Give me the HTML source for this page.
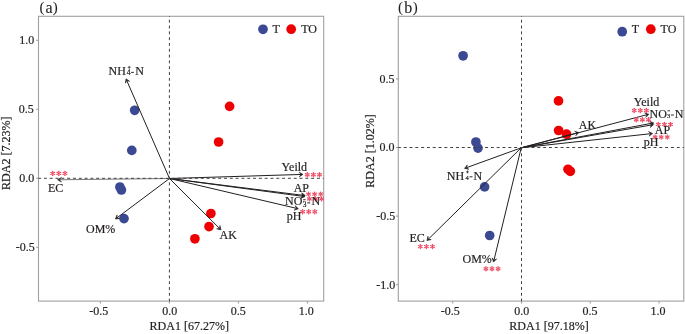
<!DOCTYPE html>
<html><head><meta charset="utf-8"><style>
html,body{margin:0;padding:0;background:#fff;}
text{stroke:#231f20;stroke-width:0.2px;}
body{width:685px;height:334px;overflow:hidden;font-family:"Liberation Serif", serif;}
svg{display:block;will-change:transform;}
</style></head><body>
<svg width="685" height="334" viewBox="0 0 685 334" font-family="'Liberation Serif', serif">
<rect x="38.5" y="16.3" width="285.2" height="284.8" fill="none" stroke="#a0a0a0" stroke-width="1.1"/>
<line x1="100.40" y1="301.10" x2="100.40" y2="303.50" stroke="#a0a0a0" stroke-width="1.1" />
<text id="Lx-0.5" x="98.80" y="314.60" font-size="12" text-anchor="middle" fill="#231f20" >-0.5</text>
<line x1="169.40" y1="301.10" x2="169.40" y2="303.50" stroke="#a0a0a0" stroke-width="1.1" />
<text id="Lx0.0" x="169.70" y="314.60" font-size="12" text-anchor="middle" fill="#231f20" >0.0</text>
<line x1="238.40" y1="301.10" x2="238.40" y2="303.50" stroke="#a0a0a0" stroke-width="1.1" />
<text id="Lx0.5" x="238.20" y="314.60" font-size="12" text-anchor="middle" fill="#231f20" >0.5</text>
<line x1="307.40" y1="301.10" x2="307.40" y2="303.50" stroke="#a0a0a0" stroke-width="1.1" />
<text id="Lx1.0" x="306.20" y="314.60" font-size="12" text-anchor="middle" fill="#231f20" >1.0</text>
<line x1="36.20" y1="40.30" x2="38.50" y2="40.30" stroke="#a0a0a0" stroke-width="1.1" />
<text id="Ly1.0" x="34.20" y="44.20" font-size="12" text-anchor="end" fill="#231f20" >1.0</text>
<line x1="36.20" y1="109.30" x2="38.50" y2="109.30" stroke="#a0a0a0" stroke-width="1.1" />
<text id="Ly0.5" x="33.80" y="112.70" font-size="12" text-anchor="end" fill="#231f20" >0.5</text>
<line x1="36.20" y1="178.30" x2="38.50" y2="178.30" stroke="#a0a0a0" stroke-width="1.1" />
<text id="Ly0.0" x="34.20" y="182.20" font-size="12" text-anchor="end" fill="#231f20" >0.0</text>
<line x1="36.20" y1="247.30" x2="38.50" y2="247.30" stroke="#a0a0a0" stroke-width="1.1" />
<text id="Ly-0.5" x="34.70" y="251.20" font-size="12" text-anchor="end" fill="#231f20" >-0.5</text>
<text id="Lxlab" x="149.60" y="329.60" font-size="12" text-anchor="start" fill="#231f20" >RDA1 [67.27%]</text>
<text id="Lylab" x="0" y="0" font-size="12" fill="#231f20" transform="translate(10.10,189.90) rotate(-90)">RDA2 [7.23%]</text>
<text id="Ltag1" x="39.50" y="12.40" font-size="15.0" text-anchor="start" fill="#231f20" style="stroke-width:0.05px">(</text>
<text id="Ltag2" x="45.50" y="12.80" font-size="16" text-anchor="start" fill="#231f20" style="stroke-width:0.12px">a</text>
<text id="Ltag3" x="52.80" y="12.40" font-size="15.0" text-anchor="start" fill="#231f20" style="stroke-width:0.05px">)</text>
<circle cx="134.7" cy="110.3" r="4.85" fill="#3b4992"/>
<circle cx="131.8" cy="150.4" r="4.85" fill="#3b4992"/>
<circle cx="119.9" cy="187" r="4.85" fill="#3b4992"/>
<circle cx="121.4" cy="190" r="4.85" fill="#3b4992"/>
<circle cx="124" cy="218.6" r="4.85" fill="#3b4992"/>
<circle cx="229.6" cy="106.4" r="4.85" fill="#ee0000"/>
<circle cx="218.6" cy="142" r="4.85" fill="#ee0000"/>
<circle cx="210.9" cy="213.5" r="4.85" fill="#ee0000"/>
<circle cx="209" cy="226.6" r="4.85" fill="#ee0000"/>
<circle cx="194.9" cy="238.8" r="4.85" fill="#ee0000"/>
<circle cx="263" cy="29.3" r="4.85" fill="#3b4992"/>
<text id="LT" x="272.60" y="32.80" font-size="12" text-anchor="start" fill="#231f20" >T</text>
<circle cx="291.2" cy="29.2" r="4.85" fill="#ee0000"/>
<text id="LTO" x="301.20" y="32.80" font-size="12" text-anchor="start" fill="#231f20" >TO</text>
<line x1="169.50" y1="178.50" x2="126.76" y2="80.54" stroke="#231f20" stroke-width="1.0" />
<path d="M126.00,78.80 L129.63,81.36 L126.76,80.54 L125.41,83.20 Z" fill="#231f20" stroke="#231f20" stroke-width="0.6" stroke-linejoin="round"/>
<line x1="169.50" y1="178.50" x2="116.92" y2="217.86" stroke="#231f20" stroke-width="1.0" />
<path d="M115.40,219.00 L117.06,214.88 L116.92,217.86 L119.82,218.56 Z" fill="#231f20" stroke="#231f20" stroke-width="0.6" stroke-linejoin="round"/>
<line x1="169.50" y1="178.50" x2="219.66" y2="228.56" stroke="#231f20" stroke-width="1.0" />
<path d="M221.00,229.90 L216.69,228.84 L219.66,228.56 L219.94,225.59 Z" fill="#231f20" stroke="#231f20" stroke-width="0.6" stroke-linejoin="round"/>
<line x1="169.50" y1="178.50" x2="301.10" y2="174.46" stroke="#231f20" stroke-width="1.0" />
<path d="M303.00,174.40 L299.27,176.82 L301.10,174.46 L299.13,172.22 Z" fill="#231f20" stroke="#231f20" stroke-width="0.6" stroke-linejoin="round"/>
<line x1="169.50" y1="178.50" x2="303.41" y2="195.36" stroke="#231f20" stroke-width="1.0" />
<path d="M305.30,195.60 L301.24,197.41 L303.41,195.36 L301.82,192.84 Z" fill="#231f20" stroke="#231f20" stroke-width="0.6" stroke-linejoin="round"/>
<line x1="169.50" y1="178.50" x2="303.12" y2="196.35" stroke="#231f20" stroke-width="1.0" />
<path d="M305.00,196.60 L300.93,198.38 L303.12,196.35 L301.54,193.82 Z" fill="#231f20" stroke="#231f20" stroke-width="0.6" stroke-linejoin="round"/>
<line x1="169.50" y1="178.50" x2="296.55" y2="208.37" stroke="#231f20" stroke-width="1.0" />
<path d="M298.40,208.80 L294.17,210.17 L296.55,208.37 L295.23,205.69 Z" fill="#231f20" stroke="#231f20" stroke-width="0.6" stroke-linejoin="round"/>
<line x1="169.50" y1="178.50" x2="59.50" y2="179.78" stroke="#6a6a6a" stroke-width="0.9" />
<path d="M57.60,179.80 L61.37,177.46 L59.50,179.78 L61.43,182.06 Z" fill="#231f20" stroke="#231f20" stroke-width="0.6" stroke-linejoin="round"/>
<line x1="169.40" y1="16.30" x2="169.40" y2="301.10" stroke="#404040" stroke-width="1.0" stroke-dasharray="2.95 2.86" stroke-dashoffset="2.37"/>
<line x1="38.50" y1="178.30" x2="323.70" y2="178.30" stroke="#404040" stroke-width="1.0" stroke-dasharray="2.95 2.86" stroke-dashoffset="0.4"/>
<path d="M52.70,173.40L52.70,171.40M52.70,173.40L54.43,172.40M52.70,173.40L54.43,174.40M52.70,173.40L52.70,175.40M52.70,173.40L50.97,172.40M52.70,173.40L50.97,174.40" stroke="#ef4a62" stroke-width="1.0" fill="none"/>
<circle cx="52.70" cy="171.40" r="0.72" fill="#ef4a62"/>
<circle cx="54.43" cy="172.40" r="0.72" fill="#ef4a62"/>
<circle cx="54.43" cy="174.40" r="0.72" fill="#ef4a62"/>
<circle cx="52.70" cy="175.40" r="0.72" fill="#ef4a62"/>
<circle cx="50.97" cy="172.40" r="0.72" fill="#ef4a62"/>
<circle cx="50.97" cy="174.40" r="0.72" fill="#ef4a62"/>
<path d="M58.80,173.40L58.80,171.40M58.80,173.40L60.53,172.40M58.80,173.40L60.53,174.40M58.80,173.40L58.80,175.40M58.80,173.40L57.07,172.40M58.80,173.40L57.07,174.40" stroke="#ef4a62" stroke-width="1.0" fill="none"/>
<circle cx="58.80" cy="171.40" r="0.72" fill="#ef4a62"/>
<circle cx="60.53" cy="172.40" r="0.72" fill="#ef4a62"/>
<circle cx="60.53" cy="174.40" r="0.72" fill="#ef4a62"/>
<circle cx="58.80" cy="175.40" r="0.72" fill="#ef4a62"/>
<circle cx="57.07" cy="172.40" r="0.72" fill="#ef4a62"/>
<circle cx="57.07" cy="174.40" r="0.72" fill="#ef4a62"/>
<path d="M64.90,173.40L64.90,171.40M64.90,173.40L66.63,172.40M64.90,173.40L66.63,174.40M64.90,173.40L64.90,175.40M64.90,173.40L63.17,172.40M64.90,173.40L63.17,174.40" stroke="#ef4a62" stroke-width="1.0" fill="none"/>
<circle cx="64.90" cy="171.40" r="0.72" fill="#ef4a62"/>
<circle cx="66.63" cy="172.40" r="0.72" fill="#ef4a62"/>
<circle cx="66.63" cy="174.40" r="0.72" fill="#ef4a62"/>
<circle cx="64.90" cy="175.40" r="0.72" fill="#ef4a62"/>
<circle cx="63.17" cy="172.40" r="0.72" fill="#ef4a62"/>
<circle cx="63.17" cy="174.40" r="0.72" fill="#ef4a62"/>
<path d="M307.30,174.70L307.30,172.70M307.30,174.70L309.03,173.70M307.30,174.70L309.03,175.70M307.30,174.70L307.30,176.70M307.30,174.70L305.57,173.70M307.30,174.70L305.57,175.70" stroke="#ef4a62" stroke-width="1.0" fill="none"/>
<circle cx="307.30" cy="172.70" r="0.72" fill="#ef4a62"/>
<circle cx="309.03" cy="173.70" r="0.72" fill="#ef4a62"/>
<circle cx="309.03" cy="175.70" r="0.72" fill="#ef4a62"/>
<circle cx="307.30" cy="176.70" r="0.72" fill="#ef4a62"/>
<circle cx="305.57" cy="173.70" r="0.72" fill="#ef4a62"/>
<circle cx="305.57" cy="175.70" r="0.72" fill="#ef4a62"/>
<path d="M313.40,174.70L313.40,172.70M313.40,174.70L315.13,173.70M313.40,174.70L315.13,175.70M313.40,174.70L313.40,176.70M313.40,174.70L311.67,173.70M313.40,174.70L311.67,175.70" stroke="#ef4a62" stroke-width="1.0" fill="none"/>
<circle cx="313.40" cy="172.70" r="0.72" fill="#ef4a62"/>
<circle cx="315.13" cy="173.70" r="0.72" fill="#ef4a62"/>
<circle cx="315.13" cy="175.70" r="0.72" fill="#ef4a62"/>
<circle cx="313.40" cy="176.70" r="0.72" fill="#ef4a62"/>
<circle cx="311.67" cy="173.70" r="0.72" fill="#ef4a62"/>
<circle cx="311.67" cy="175.70" r="0.72" fill="#ef4a62"/>
<path d="M319.50,174.70L319.50,172.70M319.50,174.70L321.23,173.70M319.50,174.70L321.23,175.70M319.50,174.70L319.50,176.70M319.50,174.70L317.77,173.70M319.50,174.70L317.77,175.70" stroke="#ef4a62" stroke-width="1.0" fill="none"/>
<circle cx="319.50" cy="172.70" r="0.72" fill="#ef4a62"/>
<circle cx="321.23" cy="173.70" r="0.72" fill="#ef4a62"/>
<circle cx="321.23" cy="175.70" r="0.72" fill="#ef4a62"/>
<circle cx="319.50" cy="176.70" r="0.72" fill="#ef4a62"/>
<circle cx="317.77" cy="173.70" r="0.72" fill="#ef4a62"/>
<circle cx="317.77" cy="175.70" r="0.72" fill="#ef4a62"/>
<path d="M308.50,194.10L308.50,192.10M308.50,194.10L310.23,193.10M308.50,194.10L310.23,195.10M308.50,194.10L308.50,196.10M308.50,194.10L306.77,193.10M308.50,194.10L306.77,195.10" stroke="#ef4a62" stroke-width="1.0" fill="none"/>
<circle cx="308.50" cy="192.10" r="0.72" fill="#ef4a62"/>
<circle cx="310.23" cy="193.10" r="0.72" fill="#ef4a62"/>
<circle cx="310.23" cy="195.10" r="0.72" fill="#ef4a62"/>
<circle cx="308.50" cy="196.10" r="0.72" fill="#ef4a62"/>
<circle cx="306.77" cy="193.10" r="0.72" fill="#ef4a62"/>
<circle cx="306.77" cy="195.10" r="0.72" fill="#ef4a62"/>
<path d="M314.60,194.10L314.60,192.10M314.60,194.10L316.33,193.10M314.60,194.10L316.33,195.10M314.60,194.10L314.60,196.10M314.60,194.10L312.87,193.10M314.60,194.10L312.87,195.10" stroke="#ef4a62" stroke-width="1.0" fill="none"/>
<circle cx="314.60" cy="192.10" r="0.72" fill="#ef4a62"/>
<circle cx="316.33" cy="193.10" r="0.72" fill="#ef4a62"/>
<circle cx="316.33" cy="195.10" r="0.72" fill="#ef4a62"/>
<circle cx="314.60" cy="196.10" r="0.72" fill="#ef4a62"/>
<circle cx="312.87" cy="193.10" r="0.72" fill="#ef4a62"/>
<circle cx="312.87" cy="195.10" r="0.72" fill="#ef4a62"/>
<path d="M320.70,194.10L320.70,192.10M320.70,194.10L322.43,193.10M320.70,194.10L322.43,195.10M320.70,194.10L320.70,196.10M320.70,194.10L318.97,193.10M320.70,194.10L318.97,195.10" stroke="#ef4a62" stroke-width="1.0" fill="none"/>
<circle cx="320.70" cy="192.10" r="0.72" fill="#ef4a62"/>
<circle cx="322.43" cy="193.10" r="0.72" fill="#ef4a62"/>
<circle cx="322.43" cy="195.10" r="0.72" fill="#ef4a62"/>
<circle cx="320.70" cy="196.10" r="0.72" fill="#ef4a62"/>
<circle cx="318.97" cy="193.10" r="0.72" fill="#ef4a62"/>
<circle cx="318.97" cy="195.10" r="0.72" fill="#ef4a62"/>
<path d="M309.40,198.90L309.40,196.90M309.40,198.90L311.13,197.90M309.40,198.90L311.13,199.90M309.40,198.90L309.40,200.90M309.40,198.90L307.67,197.90M309.40,198.90L307.67,199.90" stroke="#ef4a62" stroke-width="1.0" fill="none"/>
<circle cx="309.40" cy="196.90" r="0.72" fill="#ef4a62"/>
<circle cx="311.13" cy="197.90" r="0.72" fill="#ef4a62"/>
<circle cx="311.13" cy="199.90" r="0.72" fill="#ef4a62"/>
<circle cx="309.40" cy="200.90" r="0.72" fill="#ef4a62"/>
<circle cx="307.67" cy="197.90" r="0.72" fill="#ef4a62"/>
<circle cx="307.67" cy="199.90" r="0.72" fill="#ef4a62"/>
<path d="M315.50,198.90L315.50,196.90M315.50,198.90L317.23,197.90M315.50,198.90L317.23,199.90M315.50,198.90L315.50,200.90M315.50,198.90L313.77,197.90M315.50,198.90L313.77,199.90" stroke="#ef4a62" stroke-width="1.0" fill="none"/>
<circle cx="315.50" cy="196.90" r="0.72" fill="#ef4a62"/>
<circle cx="317.23" cy="197.90" r="0.72" fill="#ef4a62"/>
<circle cx="317.23" cy="199.90" r="0.72" fill="#ef4a62"/>
<circle cx="315.50" cy="200.90" r="0.72" fill="#ef4a62"/>
<circle cx="313.77" cy="197.90" r="0.72" fill="#ef4a62"/>
<circle cx="313.77" cy="199.90" r="0.72" fill="#ef4a62"/>
<path d="M321.60,198.90L321.60,196.90M321.60,198.90L323.33,197.90M321.60,198.90L323.33,199.90M321.60,198.90L321.60,200.90M321.60,198.90L319.87,197.90M321.60,198.90L319.87,199.90" stroke="#ef4a62" stroke-width="1.0" fill="none"/>
<circle cx="321.60" cy="196.90" r="0.72" fill="#ef4a62"/>
<circle cx="323.33" cy="197.90" r="0.72" fill="#ef4a62"/>
<circle cx="323.33" cy="199.90" r="0.72" fill="#ef4a62"/>
<circle cx="321.60" cy="200.90" r="0.72" fill="#ef4a62"/>
<circle cx="319.87" cy="197.90" r="0.72" fill="#ef4a62"/>
<circle cx="319.87" cy="199.90" r="0.72" fill="#ef4a62"/>
<path d="M302.60,211.70L302.60,209.70M302.60,211.70L304.33,210.70M302.60,211.70L304.33,212.70M302.60,211.70L302.60,213.70M302.60,211.70L300.87,210.70M302.60,211.70L300.87,212.70" stroke="#ef4a62" stroke-width="1.0" fill="none"/>
<circle cx="302.60" cy="209.70" r="0.72" fill="#ef4a62"/>
<circle cx="304.33" cy="210.70" r="0.72" fill="#ef4a62"/>
<circle cx="304.33" cy="212.70" r="0.72" fill="#ef4a62"/>
<circle cx="302.60" cy="213.70" r="0.72" fill="#ef4a62"/>
<circle cx="300.87" cy="210.70" r="0.72" fill="#ef4a62"/>
<circle cx="300.87" cy="212.70" r="0.72" fill="#ef4a62"/>
<path d="M308.70,211.70L308.70,209.70M308.70,211.70L310.43,210.70M308.70,211.70L310.43,212.70M308.70,211.70L308.70,213.70M308.70,211.70L306.97,210.70M308.70,211.70L306.97,212.70" stroke="#ef4a62" stroke-width="1.0" fill="none"/>
<circle cx="308.70" cy="209.70" r="0.72" fill="#ef4a62"/>
<circle cx="310.43" cy="210.70" r="0.72" fill="#ef4a62"/>
<circle cx="310.43" cy="212.70" r="0.72" fill="#ef4a62"/>
<circle cx="308.70" cy="213.70" r="0.72" fill="#ef4a62"/>
<circle cx="306.97" cy="210.70" r="0.72" fill="#ef4a62"/>
<circle cx="306.97" cy="212.70" r="0.72" fill="#ef4a62"/>
<path d="M314.80,211.70L314.80,209.70M314.80,211.70L316.53,210.70M314.80,211.70L316.53,212.70M314.80,211.70L314.80,213.70M314.80,211.70L313.07,210.70M314.80,211.70L313.07,212.70" stroke="#ef4a62" stroke-width="1.0" fill="none"/>
<circle cx="314.80" cy="209.70" r="0.72" fill="#ef4a62"/>
<circle cx="316.53" cy="210.70" r="0.72" fill="#ef4a62"/>
<circle cx="316.53" cy="212.70" r="0.72" fill="#ef4a62"/>
<circle cx="314.80" cy="213.70" r="0.72" fill="#ef4a62"/>
<circle cx="313.07" cy="210.70" r="0.72" fill="#ef4a62"/>
<circle cx="313.07" cy="212.70" r="0.72" fill="#ef4a62"/>
<text id="LNH" x="108.60" y="75.40" font-size="12" text-anchor="start" fill="#231f20" >NH</text>
<text id="LNH4" x="126.75" y="74.90" font-size="7.5" text-anchor="start" fill="#231f20" >4</text>
<path d="M127.75,67.30H130.65M129.20,65.85V68.75" stroke="#231f20" stroke-width="0.75"/>
<path d="M131.10,72.40H133.80" stroke="#231f20" stroke-width="0.95"/>
<text id="LNHN" x="135.20" y="75.40" font-size="12" text-anchor="start" fill="#231f20" >N</text>
<text id="LEC" x="48.00" y="191.60" font-size="12" text-anchor="start" fill="#231f20" >EC</text>
<text id="LOM" x="86.00" y="233.30" font-size="12" text-anchor="start" fill="#231f20" >OM%</text>
<text id="LAK" x="219.60" y="239.10" font-size="12" text-anchor="start" fill="#231f20" >AK</text>
<text id="LY" x="281.60" y="170.70" font-size="12" text-anchor="start" fill="#231f20" >Yeild</text>
<text id="LAP" x="293.70" y="191.70" font-size="12" text-anchor="start" fill="#231f20" >AP</text>
<text id="LNO" x="285.10" y="205.20" font-size="12" text-anchor="start" fill="#231f20" >NO</text>
<text id="LNO3" x="302.70" y="206.60" font-size="7.5" text-anchor="start" fill="#231f20" >3</text>
<path d="M303.20,199.70H305.60" stroke="#231f20" stroke-width="0.9"/>
<path d="M307.20,202.90H310.20" stroke="#231f20" stroke-width="0.95"/>
<text id="LNON" x="311.60" y="205.20" font-size="12" text-anchor="start" fill="#231f20" >N</text>
<text id="LpH" x="286.80" y="220.40" font-size="12" text-anchor="start" fill="#231f20" >pH</text>
<rect x="398.3" y="16.3" width="285.49999999999994" height="284.8" fill="none" stroke="#a0a0a0" stroke-width="1.1"/>
<line x1="452.70" y1="301.10" x2="452.70" y2="303.50" stroke="#a0a0a0" stroke-width="1.1" />
<text id="Rx-0.5" x="450.20" y="314.60" font-size="12" text-anchor="middle" fill="#231f20" >-0.5</text>
<line x1="521.50" y1="301.10" x2="521.50" y2="303.50" stroke="#a0a0a0" stroke-width="1.1" />
<text id="Rx0.0" x="521.80" y="314.60" font-size="12" text-anchor="middle" fill="#231f20" >0.0</text>
<line x1="590.30" y1="301.10" x2="590.30" y2="303.50" stroke="#a0a0a0" stroke-width="1.1" />
<text id="Rx0.5" x="589.90" y="314.60" font-size="12" text-anchor="middle" fill="#231f20" >0.5</text>
<line x1="659.10" y1="301.10" x2="659.10" y2="303.50" stroke="#a0a0a0" stroke-width="1.1" />
<text id="Rx1.0" x="658.00" y="314.60" font-size="12" text-anchor="middle" fill="#231f20" >1.0</text>
<line x1="396.00" y1="78.90" x2="398.30" y2="78.90" stroke="#a0a0a0" stroke-width="1.1" />
<text id="Ry0.5" x="394.50" y="82.80" font-size="12" text-anchor="end" fill="#231f20" >0.5</text>
<line x1="396.00" y1="147.50" x2="398.30" y2="147.50" stroke="#a0a0a0" stroke-width="1.1" />
<text id="Ry0.0" x="394.60" y="151.40" font-size="12" text-anchor="end" fill="#231f20" >0.0</text>
<line x1="396.00" y1="216.10" x2="398.30" y2="216.10" stroke="#a0a0a0" stroke-width="1.1" />
<text id="Ry-0.5" x="395.30" y="220.00" font-size="12" text-anchor="end" fill="#231f20" >-0.5</text>
<line x1="396.00" y1="284.70" x2="398.30" y2="284.70" stroke="#a0a0a0" stroke-width="1.1" />
<text id="Ry-1.0" x="395.30" y="288.60" font-size="12" text-anchor="end" fill="#231f20" >-1.0</text>
<text id="Rxlab" x="509.30" y="329.60" font-size="12" text-anchor="start" fill="#231f20" >RDA1 [97.18%]</text>
<text id="Rylab" x="0" y="0" font-size="12" fill="#231f20" transform="translate(374.10,187.70) rotate(-90)">RDA2 [1.02%]</text>
<text id="Rtag1" x="398.00" y="12.40" font-size="15.0" text-anchor="start" fill="#231f20" style="stroke-width:0.05px">(</text>
<text id="Rtag2" x="404.20" y="12.80" font-size="16" text-anchor="start" fill="#231f20" style="stroke-width:0.12px">b</text>
<text id="Rtag3" x="412.80" y="12.40" font-size="15.0" text-anchor="start" fill="#231f20" style="stroke-width:0.05px">)</text>
<circle cx="463.1" cy="55.8" r="4.85" fill="#3b4992"/>
<circle cx="475.9" cy="142" r="4.85" fill="#3b4992"/>
<circle cx="478" cy="148.1" r="4.85" fill="#3b4992"/>
<circle cx="484.6" cy="186.9" r="4.85" fill="#3b4992"/>
<circle cx="489.7" cy="235.5" r="4.85" fill="#3b4992"/>
<circle cx="622.2" cy="31.7" r="4.85" fill="#3b4992"/>
<circle cx="558.5" cy="100.9" r="4.85" fill="#ee0000"/>
<circle cx="558.6" cy="130.5" r="4.85" fill="#ee0000"/>
<circle cx="566.6" cy="134.2" r="4.85" fill="#ee0000"/>
<circle cx="568" cy="169.3" r="4.85" fill="#ee0000"/>
<circle cx="570.3" cy="171.3" r="4.85" fill="#ee0000"/>
<text id="RT" x="631.80" y="32.80" font-size="12" text-anchor="start" fill="#231f20" >T</text>
<circle cx="650.8" cy="29.2" r="4.85" fill="#ee0000"/>
<text id="RTO" x="660.60" y="32.80" font-size="12" text-anchor="start" fill="#231f20" >TO</text>
<line x1="521.20" y1="147.80" x2="466.29" y2="167.75" stroke="#231f20" stroke-width="1.0" />
<path d="M464.50,168.40 L467.29,164.94 L466.29,167.75 L468.86,169.26 Z" fill="#231f20" stroke="#231f20" stroke-width="0.6" stroke-linejoin="round"/>
<line x1="521.20" y1="147.80" x2="428.25" y2="239.27" stroke="#231f20" stroke-width="1.0" />
<path d="M426.90,240.60 L428.00,236.30 L428.25,239.27 L431.22,239.57 Z" fill="#231f20" stroke="#231f20" stroke-width="0.6" stroke-linejoin="round"/>
<line x1="521.20" y1="147.80" x2="493.95" y2="260.25" stroke="#231f20" stroke-width="1.0" />
<path d="M493.50,262.10 L492.16,257.87 L493.95,260.25 L496.63,258.95 Z" fill="#231f20" stroke="#231f20" stroke-width="0.6" stroke-linejoin="round"/>
<line x1="521.20" y1="147.80" x2="577.06" y2="132.99" stroke="#231f20" stroke-width="1.0" />
<path d="M578.90,132.50 L575.82,135.70 L577.06,132.99 L574.64,131.25 Z" fill="#231f20" stroke="#231f20" stroke-width="0.6" stroke-linejoin="round"/>
<line x1="521.20" y1="147.80" x2="647.06" y2="114.68" stroke="#231f20" stroke-width="1.0" />
<path d="M648.90,114.20 L645.81,117.39 L647.06,114.68 L644.64,112.94 Z" fill="#231f20" stroke="#231f20" stroke-width="0.6" stroke-linejoin="round"/>
<line x1="521.20" y1="147.80" x2="651.93" y2="123.25" stroke="#231f20" stroke-width="1.0" />
<path d="M653.80,122.90 L650.49,125.86 L651.93,123.25 L649.64,121.34 Z" fill="#231f20" stroke="#231f20" stroke-width="0.6" stroke-linejoin="round"/>
<line x1="521.20" y1="147.80" x2="651.73" y2="124.93" stroke="#231f20" stroke-width="1.0" />
<path d="M653.60,124.60 L650.25,127.52 L651.73,124.93 L649.46,122.99 Z" fill="#231f20" stroke="#231f20" stroke-width="0.6" stroke-linejoin="round"/>
<line x1="521.20" y1="147.80" x2="650.71" y2="133.71" stroke="#231f20" stroke-width="1.0" />
<path d="M652.60,133.50 L649.07,136.20 L650.71,133.71 L648.57,131.62 Z" fill="#231f20" stroke="#231f20" stroke-width="0.6" stroke-linejoin="round"/>
<line x1="521.50" y1="16.30" x2="521.50" y2="301.10" stroke="#404040" stroke-width="1.0" stroke-dasharray="2.95 2.86" stroke-dashoffset="2.37"/>
<line x1="398.30" y1="147.50" x2="683.80" y2="147.50" stroke="#404040" stroke-width="1.0" stroke-dasharray="2.95 2.86" stroke-dashoffset="0.4"/>
<path d="M420.30,246.60L420.30,244.60M420.30,246.60L422.03,245.60M420.30,246.60L422.03,247.60M420.30,246.60L420.30,248.60M420.30,246.60L418.57,245.60M420.30,246.60L418.57,247.60" stroke="#ef4a62" stroke-width="1.0" fill="none"/>
<circle cx="420.30" cy="244.60" r="0.72" fill="#ef4a62"/>
<circle cx="422.03" cy="245.60" r="0.72" fill="#ef4a62"/>
<circle cx="422.03" cy="247.60" r="0.72" fill="#ef4a62"/>
<circle cx="420.30" cy="248.60" r="0.72" fill="#ef4a62"/>
<circle cx="418.57" cy="245.60" r="0.72" fill="#ef4a62"/>
<circle cx="418.57" cy="247.60" r="0.72" fill="#ef4a62"/>
<path d="M426.40,246.60L426.40,244.60M426.40,246.60L428.13,245.60M426.40,246.60L428.13,247.60M426.40,246.60L426.40,248.60M426.40,246.60L424.67,245.60M426.40,246.60L424.67,247.60" stroke="#ef4a62" stroke-width="1.0" fill="none"/>
<circle cx="426.40" cy="244.60" r="0.72" fill="#ef4a62"/>
<circle cx="428.13" cy="245.60" r="0.72" fill="#ef4a62"/>
<circle cx="428.13" cy="247.60" r="0.72" fill="#ef4a62"/>
<circle cx="426.40" cy="248.60" r="0.72" fill="#ef4a62"/>
<circle cx="424.67" cy="245.60" r="0.72" fill="#ef4a62"/>
<circle cx="424.67" cy="247.60" r="0.72" fill="#ef4a62"/>
<path d="M432.50,246.60L432.50,244.60M432.50,246.60L434.23,245.60M432.50,246.60L434.23,247.60M432.50,246.60L432.50,248.60M432.50,246.60L430.77,245.60M432.50,246.60L430.77,247.60" stroke="#ef4a62" stroke-width="1.0" fill="none"/>
<circle cx="432.50" cy="244.60" r="0.72" fill="#ef4a62"/>
<circle cx="434.23" cy="245.60" r="0.72" fill="#ef4a62"/>
<circle cx="434.23" cy="247.60" r="0.72" fill="#ef4a62"/>
<circle cx="432.50" cy="248.60" r="0.72" fill="#ef4a62"/>
<circle cx="430.77" cy="245.60" r="0.72" fill="#ef4a62"/>
<circle cx="430.77" cy="247.60" r="0.72" fill="#ef4a62"/>
<path d="M485.90,268.80L485.90,266.80M485.90,268.80L487.63,267.80M485.90,268.80L487.63,269.80M485.90,268.80L485.90,270.80M485.90,268.80L484.17,267.80M485.90,268.80L484.17,269.80" stroke="#ef4a62" stroke-width="1.0" fill="none"/>
<circle cx="485.90" cy="266.80" r="0.72" fill="#ef4a62"/>
<circle cx="487.63" cy="267.80" r="0.72" fill="#ef4a62"/>
<circle cx="487.63" cy="269.80" r="0.72" fill="#ef4a62"/>
<circle cx="485.90" cy="270.80" r="0.72" fill="#ef4a62"/>
<circle cx="484.17" cy="267.80" r="0.72" fill="#ef4a62"/>
<circle cx="484.17" cy="269.80" r="0.72" fill="#ef4a62"/>
<path d="M492.00,268.80L492.00,266.80M492.00,268.80L493.73,267.80M492.00,268.80L493.73,269.80M492.00,268.80L492.00,270.80M492.00,268.80L490.27,267.80M492.00,268.80L490.27,269.80" stroke="#ef4a62" stroke-width="1.0" fill="none"/>
<circle cx="492.00" cy="266.80" r="0.72" fill="#ef4a62"/>
<circle cx="493.73" cy="267.80" r="0.72" fill="#ef4a62"/>
<circle cx="493.73" cy="269.80" r="0.72" fill="#ef4a62"/>
<circle cx="492.00" cy="270.80" r="0.72" fill="#ef4a62"/>
<circle cx="490.27" cy="267.80" r="0.72" fill="#ef4a62"/>
<circle cx="490.27" cy="269.80" r="0.72" fill="#ef4a62"/>
<path d="M498.10,268.80L498.10,266.80M498.10,268.80L499.83,267.80M498.10,268.80L499.83,269.80M498.10,268.80L498.10,270.80M498.10,268.80L496.37,267.80M498.10,268.80L496.37,269.80" stroke="#ef4a62" stroke-width="1.0" fill="none"/>
<circle cx="498.10" cy="266.80" r="0.72" fill="#ef4a62"/>
<circle cx="499.83" cy="267.80" r="0.72" fill="#ef4a62"/>
<circle cx="499.83" cy="269.80" r="0.72" fill="#ef4a62"/>
<circle cx="498.10" cy="270.80" r="0.72" fill="#ef4a62"/>
<circle cx="496.37" cy="267.80" r="0.72" fill="#ef4a62"/>
<circle cx="496.37" cy="269.80" r="0.72" fill="#ef4a62"/>
<path d="M634.20,110.50L634.20,108.50M634.20,110.50L635.93,109.50M634.20,110.50L635.93,111.50M634.20,110.50L634.20,112.50M634.20,110.50L632.47,109.50M634.20,110.50L632.47,111.50" stroke="#ef4a62" stroke-width="1.0" fill="none"/>
<circle cx="634.20" cy="108.50" r="0.72" fill="#ef4a62"/>
<circle cx="635.93" cy="109.50" r="0.72" fill="#ef4a62"/>
<circle cx="635.93" cy="111.50" r="0.72" fill="#ef4a62"/>
<circle cx="634.20" cy="112.50" r="0.72" fill="#ef4a62"/>
<circle cx="632.47" cy="109.50" r="0.72" fill="#ef4a62"/>
<circle cx="632.47" cy="111.50" r="0.72" fill="#ef4a62"/>
<path d="M640.30,110.50L640.30,108.50M640.30,110.50L642.03,109.50M640.30,110.50L642.03,111.50M640.30,110.50L640.30,112.50M640.30,110.50L638.57,109.50M640.30,110.50L638.57,111.50" stroke="#ef4a62" stroke-width="1.0" fill="none"/>
<circle cx="640.30" cy="108.50" r="0.72" fill="#ef4a62"/>
<circle cx="642.03" cy="109.50" r="0.72" fill="#ef4a62"/>
<circle cx="642.03" cy="111.50" r="0.72" fill="#ef4a62"/>
<circle cx="640.30" cy="112.50" r="0.72" fill="#ef4a62"/>
<circle cx="638.57" cy="109.50" r="0.72" fill="#ef4a62"/>
<circle cx="638.57" cy="111.50" r="0.72" fill="#ef4a62"/>
<path d="M646.40,110.50L646.40,108.50M646.40,110.50L648.13,109.50M646.40,110.50L648.13,111.50M646.40,110.50L646.40,112.50M646.40,110.50L644.67,109.50M646.40,110.50L644.67,111.50" stroke="#ef4a62" stroke-width="1.0" fill="none"/>
<circle cx="646.40" cy="108.50" r="0.72" fill="#ef4a62"/>
<circle cx="648.13" cy="109.50" r="0.72" fill="#ef4a62"/>
<circle cx="648.13" cy="111.50" r="0.72" fill="#ef4a62"/>
<circle cx="646.40" cy="112.50" r="0.72" fill="#ef4a62"/>
<circle cx="644.67" cy="109.50" r="0.72" fill="#ef4a62"/>
<circle cx="644.67" cy="111.50" r="0.72" fill="#ef4a62"/>
<path d="M636.30,119.80L636.30,117.80M636.30,119.80L638.03,118.80M636.30,119.80L638.03,120.80M636.30,119.80L636.30,121.80M636.30,119.80L634.57,118.80M636.30,119.80L634.57,120.80" stroke="#ef4a62" stroke-width="1.0" fill="none"/>
<circle cx="636.30" cy="117.80" r="0.72" fill="#ef4a62"/>
<circle cx="638.03" cy="118.80" r="0.72" fill="#ef4a62"/>
<circle cx="638.03" cy="120.80" r="0.72" fill="#ef4a62"/>
<circle cx="636.30" cy="121.80" r="0.72" fill="#ef4a62"/>
<circle cx="634.57" cy="118.80" r="0.72" fill="#ef4a62"/>
<circle cx="634.57" cy="120.80" r="0.72" fill="#ef4a62"/>
<path d="M642.40,119.80L642.40,117.80M642.40,119.80L644.13,118.80M642.40,119.80L644.13,120.80M642.40,119.80L642.40,121.80M642.40,119.80L640.67,118.80M642.40,119.80L640.67,120.80" stroke="#ef4a62" stroke-width="1.0" fill="none"/>
<circle cx="642.40" cy="117.80" r="0.72" fill="#ef4a62"/>
<circle cx="644.13" cy="118.80" r="0.72" fill="#ef4a62"/>
<circle cx="644.13" cy="120.80" r="0.72" fill="#ef4a62"/>
<circle cx="642.40" cy="121.80" r="0.72" fill="#ef4a62"/>
<circle cx="640.67" cy="118.80" r="0.72" fill="#ef4a62"/>
<circle cx="640.67" cy="120.80" r="0.72" fill="#ef4a62"/>
<path d="M648.50,119.80L648.50,117.80M648.50,119.80L650.23,118.80M648.50,119.80L650.23,120.80M648.50,119.80L648.50,121.80M648.50,119.80L646.77,118.80M648.50,119.80L646.77,120.80" stroke="#ef4a62" stroke-width="1.0" fill="none"/>
<circle cx="648.50" cy="117.80" r="0.72" fill="#ef4a62"/>
<circle cx="650.23" cy="118.80" r="0.72" fill="#ef4a62"/>
<circle cx="650.23" cy="120.80" r="0.72" fill="#ef4a62"/>
<circle cx="648.50" cy="121.80" r="0.72" fill="#ef4a62"/>
<circle cx="646.77" cy="118.80" r="0.72" fill="#ef4a62"/>
<circle cx="646.77" cy="120.80" r="0.72" fill="#ef4a62"/>
<path d="M658.30,124.40L658.30,122.40M658.30,124.40L660.03,123.40M658.30,124.40L660.03,125.40M658.30,124.40L658.30,126.40M658.30,124.40L656.57,123.40M658.30,124.40L656.57,125.40" stroke="#ef4a62" stroke-width="1.0" fill="none"/>
<circle cx="658.30" cy="122.40" r="0.72" fill="#ef4a62"/>
<circle cx="660.03" cy="123.40" r="0.72" fill="#ef4a62"/>
<circle cx="660.03" cy="125.40" r="0.72" fill="#ef4a62"/>
<circle cx="658.30" cy="126.40" r="0.72" fill="#ef4a62"/>
<circle cx="656.57" cy="123.40" r="0.72" fill="#ef4a62"/>
<circle cx="656.57" cy="125.40" r="0.72" fill="#ef4a62"/>
<path d="M664.40,124.40L664.40,122.40M664.40,124.40L666.13,123.40M664.40,124.40L666.13,125.40M664.40,124.40L664.40,126.40M664.40,124.40L662.67,123.40M664.40,124.40L662.67,125.40" stroke="#ef4a62" stroke-width="1.0" fill="none"/>
<circle cx="664.40" cy="122.40" r="0.72" fill="#ef4a62"/>
<circle cx="666.13" cy="123.40" r="0.72" fill="#ef4a62"/>
<circle cx="666.13" cy="125.40" r="0.72" fill="#ef4a62"/>
<circle cx="664.40" cy="126.40" r="0.72" fill="#ef4a62"/>
<circle cx="662.67" cy="123.40" r="0.72" fill="#ef4a62"/>
<circle cx="662.67" cy="125.40" r="0.72" fill="#ef4a62"/>
<path d="M670.50,124.40L670.50,122.40M670.50,124.40L672.23,123.40M670.50,124.40L672.23,125.40M670.50,124.40L670.50,126.40M670.50,124.40L668.77,123.40M670.50,124.40L668.77,125.40" stroke="#ef4a62" stroke-width="1.0" fill="none"/>
<circle cx="670.50" cy="122.40" r="0.72" fill="#ef4a62"/>
<circle cx="672.23" cy="123.40" r="0.72" fill="#ef4a62"/>
<circle cx="672.23" cy="125.40" r="0.72" fill="#ef4a62"/>
<circle cx="670.50" cy="126.40" r="0.72" fill="#ef4a62"/>
<circle cx="668.77" cy="123.40" r="0.72" fill="#ef4a62"/>
<circle cx="668.77" cy="125.40" r="0.72" fill="#ef4a62"/>
<path d="M655.10,137.10L655.10,135.10M655.10,137.10L656.83,136.10M655.10,137.10L656.83,138.10M655.10,137.10L655.10,139.10M655.10,137.10L653.37,136.10M655.10,137.10L653.37,138.10" stroke="#ef4a62" stroke-width="1.0" fill="none"/>
<circle cx="655.10" cy="135.10" r="0.72" fill="#ef4a62"/>
<circle cx="656.83" cy="136.10" r="0.72" fill="#ef4a62"/>
<circle cx="656.83" cy="138.10" r="0.72" fill="#ef4a62"/>
<circle cx="655.10" cy="139.10" r="0.72" fill="#ef4a62"/>
<circle cx="653.37" cy="136.10" r="0.72" fill="#ef4a62"/>
<circle cx="653.37" cy="138.10" r="0.72" fill="#ef4a62"/>
<path d="M661.20,137.10L661.20,135.10M661.20,137.10L662.93,136.10M661.20,137.10L662.93,138.10M661.20,137.10L661.20,139.10M661.20,137.10L659.47,136.10M661.20,137.10L659.47,138.10" stroke="#ef4a62" stroke-width="1.0" fill="none"/>
<circle cx="661.20" cy="135.10" r="0.72" fill="#ef4a62"/>
<circle cx="662.93" cy="136.10" r="0.72" fill="#ef4a62"/>
<circle cx="662.93" cy="138.10" r="0.72" fill="#ef4a62"/>
<circle cx="661.20" cy="139.10" r="0.72" fill="#ef4a62"/>
<circle cx="659.47" cy="136.10" r="0.72" fill="#ef4a62"/>
<circle cx="659.47" cy="138.10" r="0.72" fill="#ef4a62"/>
<path d="M667.30,137.10L667.30,135.10M667.30,137.10L669.03,136.10M667.30,137.10L669.03,138.10M667.30,137.10L667.30,139.10M667.30,137.10L665.57,136.10M667.30,137.10L665.57,138.10" stroke="#ef4a62" stroke-width="1.0" fill="none"/>
<circle cx="667.30" cy="135.10" r="0.72" fill="#ef4a62"/>
<circle cx="669.03" cy="136.10" r="0.72" fill="#ef4a62"/>
<circle cx="669.03" cy="138.10" r="0.72" fill="#ef4a62"/>
<circle cx="667.30" cy="139.10" r="0.72" fill="#ef4a62"/>
<circle cx="665.57" cy="136.10" r="0.72" fill="#ef4a62"/>
<circle cx="665.57" cy="138.10" r="0.72" fill="#ef4a62"/>
<text id="RNH" x="446.80" y="179.70" font-size="12" text-anchor="start" fill="#231f20" >NH</text>
<text id="RNH4" x="465.40" y="179.80" font-size="6.5" text-anchor="start" fill="#231f20" >4</text>
<path d="M466.05,171.90H468.95M467.50,170.45V173.35" stroke="#231f20" stroke-width="0.75"/>
<path d="M469.60,176.80H472.50" stroke="#231f20" stroke-width="0.95"/>
<text id="RNHN" x="473.60" y="179.70" font-size="12" text-anchor="start" fill="#231f20" >N</text>
<text id="REC" x="409.50" y="241.80" font-size="12" text-anchor="start" fill="#231f20" >EC</text>
<text id="ROM" x="462.50" y="263.40" font-size="12" text-anchor="start" fill="#231f20" >OM%</text>
<text id="RAK" x="578.80" y="129.40" font-size="12" text-anchor="start" fill="#231f20" >AK</text>
<text id="RY" x="633.80" y="105.80" font-size="12" text-anchor="start" fill="#231f20" >Yeild</text>
<text id="RNO" x="649.50" y="117.80" font-size="12" text-anchor="start" fill="#231f20" >NO</text>
<text id="RNO3" x="667.00" y="117.90" font-size="6.5" text-anchor="start" fill="#231f20" >3</text>
<path d="M667.40,110.80H670.00" stroke="#231f20" stroke-width="0.9"/>
<path d="M671.00,115.00H673.80" stroke="#231f20" stroke-width="0.95"/>
<text id="RNON" x="674.70" y="117.80" font-size="12" text-anchor="start" fill="#231f20" >N</text>
<text id="RAP" x="654.80" y="133.80" font-size="12" text-anchor="start" fill="#231f20" >AP</text>
<text id="RpH" x="643.70" y="146.40" font-size="12" text-anchor="start" fill="#231f20" >pH</text>
</svg>
</body></html>
